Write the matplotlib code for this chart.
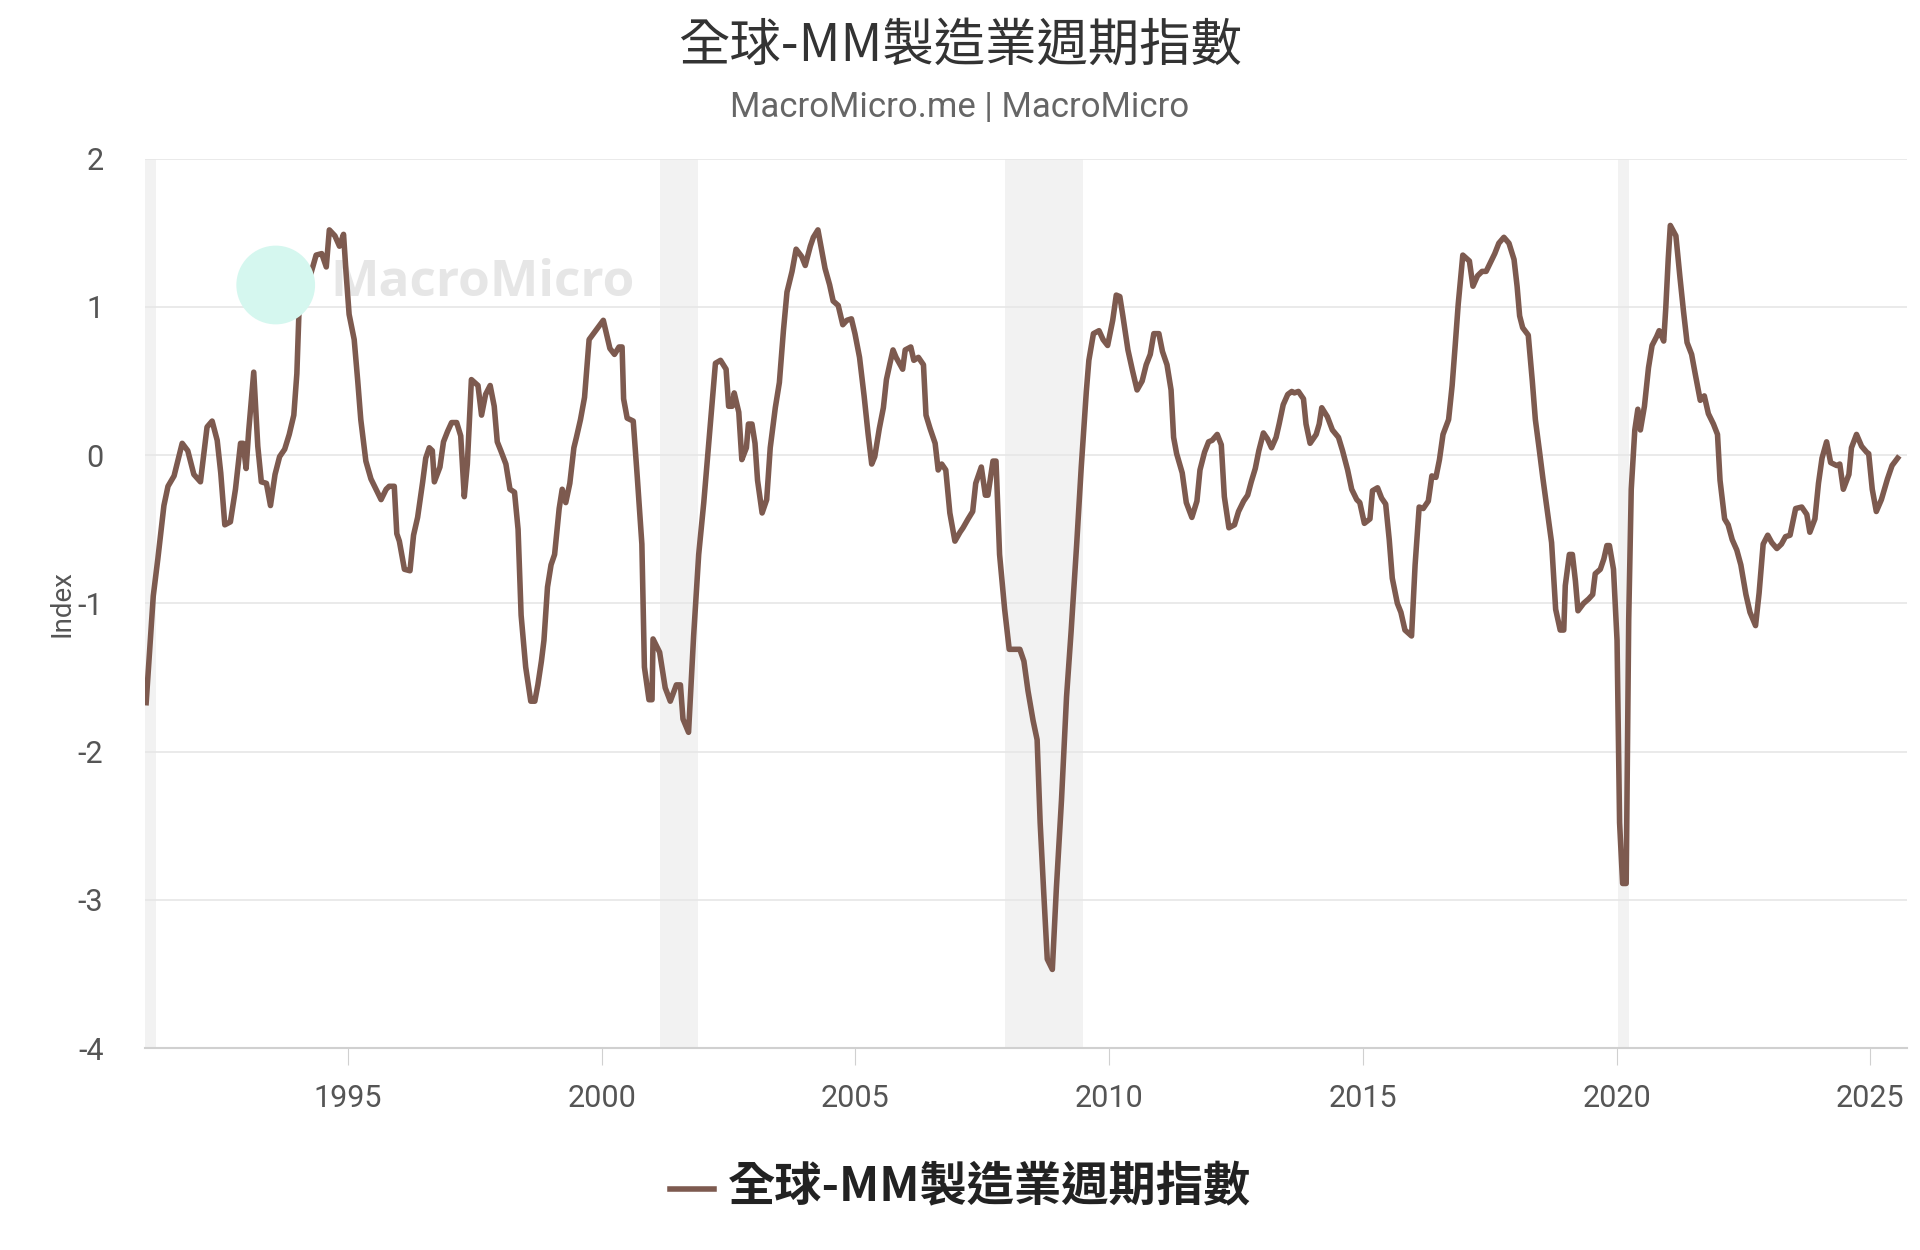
import matplotlib
matplotlib.use("Agg")
import matplotlib.pyplot as plt
from matplotlib.patches import Ellipse

plt.rcParams['font.family'] = ['Noto Sans CJK TC', 'DejaVu Sans']

title = "全球-MM製造業週期指數"
subtitle = "MacroMicro.me | MacroMicro"
series_name = "全球-MM製造業週期指數"

years = [
1991.02,1991.16,1991.25,1991.37,1991.45,1991.57,1991.73,1991.84,1991.96,1992.09,1992.22,1992.32,1992.42,1992.49,1992.57,1992.68,1992.78,1992.88,1992.93,1992.99,
1993.04,1993.14,1993.22,1993.29,1993.39,1993.47,1993.56,1993.65,1993.75,1993.84,1993.93,1993.99,1994.04,1994.14,1994.27,1994.37,1994.48,1994.57,1994.63,1994.74,
1994.83,1994.91,1994.96,1995.02,1995.12,1995.19,1995.25,1995.35,1995.45,1995.55,1995.65,1995.75,1995.81,1995.91,1995.96,1996.01,1996.11,1996.22,1996.29,1996.37,
1996.47,1996.53,1996.60,1996.66,1996.70,1996.81,1996.88,1996.96,1997.04,1997.14,1997.22,1997.29,1997.35,1997.43,1997.56,1997.63,1997.71,1997.80,1997.88,1997.94,
1998.01,1998.11,1998.19,1998.28,1998.35,1998.41,1998.50,1998.60,1998.68,1998.74,1998.81,1998.86,1998.93,1999.00,1999.07,1999.16,1999.22,1999.29,1999.37,1999.45,
1999.50,1999.58,1999.66,1999.75,1999.88,2000.03,2000.16,2000.25,2000.34,
2000.40,2000.43,2000.50,2000.62,2000.70,2000.79,2000.84,2000.93,2000.99,2001.01,2001.14,2001.25,2001.35,2001.47,2001.55,2001.60,2001.71,2001.81,2001.91,2002.01,
2002.14,2002.24,2002.34,2002.45,2002.50,2002.57,2002.61,2002.70,2002.76,2002.85,2002.89,2002.96,2003.02,2003.07,2003.16,2003.25,2003.32,2003.42,2003.50,2003.58,
2003.65,2003.75,2003.83,2003.94,2004.01,2004.11,2004.17,2004.26,2004.34,2004.40,2004.49,2004.56,2004.66,2004.75,2004.83,2004.92,2004.99,2005.08,2005.17,2005.25,
2005.32,2005.38,2005.47,2005.55,2005.61,2005.68,2005.74,2005.80,2005.93,2005.98,2006.09,2006.15,2006.24,2006.34,2006.39,2006.47,2006.57,2006.63,2006.70,2006.78,
2006.86,2006.96,2007.06,2007.12,2007.22,2007.31,2007.37,2007.48,2007.56,2007.61,2007.71,2007.77,2007.84,2007.94,2008.03,2008.14,2008.24,2008.32,2008.40,2008.50,
2008.58,2008.64,2008.71,2008.78,2008.88,2008.96,2009.06,2009.16,2009.25,2009.36,2009.45,2009.55,2009.60,2009.69,2009.80,2009.88,2009.97,2010.07,2010.14,
2010.21,2010.27,2010.37,2010.46,2010.55,2010.65,2010.73,2010.81,2010.88,2010.98,2011.05,2011.14,2011.22,2011.27,2011.33,2011.44,2011.52,2011.63,2011.73,2011.79,
2011.88,2011.96,2012.03,2012.13,2012.21,2012.27,2012.36,2012.47,2012.55,2012.65,2012.73,2012.80,2012.88,2012.95,2013.04,2013.12,2013.20,2013.29,2013.35,2013.43,
2013.52,2013.60,2013.65,2013.73,2013.83,2013.88,2013.96,2014.08,2014.14,2014.19,2014.30,2014.40,2014.52,2014.60,2014.70,2014.78,2014.88,2014.94,2015.03,2015.14,
2015.19,2015.29,2015.37,2015.45,2015.52,2015.58,2015.68,2015.75,2015.83,2015.96,2016.03,2016.11,2016.19,2016.29,2016.36,2016.44,2016.51,2016.58,2016.69,2016.76,
2016.82,2016.88,2016.97,2017.10,2017.17,2017.26,2017.35,2017.43,2017.50,2017.60,2017.68,2017.78,2017.88,2017.98,2018.04,2018.09,2018.15,2018.26,2018.34,2018.40,
2018.48,2018.55,2018.63,2018.72,2018.80,2018.89,2018.96,2018.99,2019.07,2019.13,2019.19,2019.24,2019.35,2019.45,2019.53,2019.58,2019.68,2019.75,2019.81,2019.86,
2019.94,2020.01,2020.06,2020.12,2020.19,2020.24,2020.29,2020.36,2020.42,
2020.47,2020.55,2020.63,2020.70,2020.79,2020.84,2020.93,2020.97,2021.02,2021.06,2021.17,2021.25,2021.32,2021.39,2021.48,2021.55,2021.65,2021.73,2021.81,2021.91,
2021.99,2022.04,2022.13,2022.20,2022.28,2022.37,2022.45,2022.55,2022.63,2022.74,2022.81,2022.89,2022.98,2023.06,2023.16,2023.25,2023.33,2023.42,2023.53,2023.65,
2023.75,2023.81,2023.91,2023.98,2024.05,2024.14,2024.22,2024.34,2024.40,2024.47,2024.58,2024.63,2024.73,2024.83,2024.93,2024.97,2025.04,2025.12,2025.22,2025.34,
2025.43,2025.54,
]
values = [
-1.67,-0.95,-0.70,-0.34,-0.21,-0.14,0.08,0.03,-0.13,-0.18,0.19,0.23,0.10,-0.12,-0.47,-0.45,-0.23,0.08,0.08,-0.09,
0.16,0.56,0.06,-0.18,-0.19,-0.34,-0.13,-0.01,0.04,0.14,0.27,0.55,1.05,1.12,1.23,1.35,1.36,1.27,1.52,1.48,
1.41,1.49,1.23,0.95,0.78,0.50,0.24,-0.04,-0.16,-0.23,-0.30,-0.23,-0.21,-0.21,-0.53,-0.58,-0.77,-0.78,-0.54,-0.42,
-0.18,-0.02,0.05,0.03,-0.18,-0.08,0.09,0.16,0.22,0.22,0.13,-0.28,-0.06,0.51,0.47,0.27,0.41,0.47,0.33,0.09,
0.03,-0.06,-0.23,-0.25,-0.50,-1.08,-1.43,-1.66,-1.66,-1.55,-1.39,-1.25,-0.89,-0.74,-0.67,-0.36,-0.23,-0.32,-0.19,0.05,
0.12,0.24,0.39,0.78,0.84,0.91,0.72,0.68,0.73,
0.73,0.38,0.25,0.23,-0.15,-0.60,-1.43,-1.65,-1.65,-1.24,-1.33,-1.57,-1.66,-1.55,-1.55,-1.78,-1.87,-1.22,-0.67,-0.32,
0.21,0.62,0.64,0.58,0.33,0.33,0.42,0.29,-0.03,0.05,0.21,0.21,0.08,-0.17,-0.39,-0.30,0.05,0.32,0.49,0.84,
1.10,1.24,1.39,1.34,1.28,1.41,1.47,1.52,1.37,1.26,1.15,1.04,1.01,0.88,0.91,0.92,0.82,0.66,0.40,0.14,
-0.06,-0.01,0.18,0.32,0.51,0.62,0.71,0.66,0.58,0.71,0.73,0.64,0.66,0.61,0.27,0.18,0.08,-0.10,-0.06,-0.10,
-0.39,-0.58,-0.52,-0.49,-0.43,-0.38,-0.19,-0.08,-0.27,-0.27,-0.04,-0.04,-0.67,-1.04,-1.31,-1.31,-1.31,-1.39,-1.59,-1.79,
-1.92,-2.48,-2.95,-3.40,-3.47,-2.92,-2.33,-1.63,-1.19,-0.60,-0.08,0.43,0.64,0.82,0.84,0.78,0.74,0.91,1.08,
1.07,0.94,0.71,0.57,0.44,0.50,0.61,0.68,0.82,0.82,0.70,0.61,0.44,0.12,0.01,-0.12,-0.32,-0.42,-0.31,-0.10,
0.02,0.09,0.10,0.14,0.07,-0.28,-0.49,-0.47,-0.38,-0.31,-0.27,-0.18,-0.09,0.03,0.15,0.11,0.05,0.12,0.21,0.34,
0.41,0.43,0.42,0.43,0.38,0.21,0.08,0.14,0.21,0.32,0.26,0.17,0.12,0.03,-0.10,-0.23,-0.30,-0.32,-0.46,-0.43,
-0.24,-0.22,-0.29,-0.33,-0.57,-0.83,-1.00,-1.06,-1.18,-1.22,-0.74,-0.35,-0.36,-0.31,-0.14,-0.15,-0.03,0.14,0.24,0.47,
0.74,1.02,1.35,1.31,1.14,1.21,1.24,1.24,1.29,1.36,1.43,1.47,1.43,1.32,1.14,0.94,0.86,0.81,0.50,0.24,
0.03,-0.16,-0.36,-0.59,-1.04,-1.18,-1.18,-0.88,-0.67,-0.67,-0.85,-1.05,-1.00,-0.97,-0.94,-0.80,-0.77,-0.70,-0.61,-0.61,
-0.77,-1.25,-2.48,-2.89,-2.89,-1.11,-0.23,0.17,0.31,
0.17,0.33,0.59,0.74,0.80,0.84,0.77,0.99,1.33,1.55,1.48,1.20,0.97,0.76,0.68,0.55,0.37,0.40,0.28,0.21,
0.14,-0.17,-0.43,-0.47,-0.57,-0.64,-0.74,-0.94,-1.06,-1.15,-0.93,-0.60,-0.54,-0.59,-0.63,-0.60,-0.55,-0.54,-0.36,-0.35,
-0.40,-0.52,-0.43,-0.19,-0.02,0.09,-0.05,-0.07,-0.06,-0.23,-0.13,0.05,0.14,0.06,0.02,0.01,-0.23,-0.38,-0.30,-0.16,
-0.07,-0.02,
]
recession_starts = [1990.9, 2001.15, 2007.95, 2020.03]
recession_ends = [1991.22, 2001.9, 2009.48, 2020.25]
yticks = [2, 1, 0, -1, -2, -3, -4]
xticks = [1995, 2000, 2005, 2010, 2015, 2020, 2025]

line_color = '#7d5a4f'
fig = plt.figure(figsize=(19.2, 12.5), dpi=100)
ax = fig.add_axes([0.0756, 0.1616, 0.9175, 0.7114])

for s, e in zip(recession_starts, recession_ends):
    ax.axvspan(s, e, color='#f2f2f2', zorder=0, lw=0)
ax.plot(years, values, color=line_color, lw=4, zorder=3)

ax.set_xlim(1991.0, 2025.72)
ax.set_ylim(-4, 2)
ax.set_yticks(yticks)
ax.set_yticklabels([str(v) for v in yticks])
ax.set_xticks(xticks)
ax.grid(axis='y', color='#e6e6e6', lw=1.2, zorder=1)
for sp in ['top', 'right', 'left']:
    ax.spines[sp].set_visible(False)
ax.spines['bottom'].set_color('#d0d0d0')
ax.spines['bottom'].set_linewidth(1.5)
ax.tick_params(axis='y', length=0, labelsize=22, labelcolor='#555555', pad=30)
ax.tick_params(axis='x', length=12, color='#d0d0d0', labelsize=22, labelcolor='#555555', pad=14)
for lab in ax.get_xticklabels() + ax.get_yticklabels():
    lab.set_family(['Roboto', 'DejaVu Sans'])
ax.set_ylabel('Index', fontsize=20, color='#555555', labelpad=2, family=['Roboto', 'DejaVu Sans'])

# watermark
fig.patches.append(Ellipse((0.1436, 0.772), 0.041, 0.063, transform=fig.transFigure,
                           color='#d5f7ef', lw=0, zorder=0))
ax.text(0.105, 0.86, 'MacroMicro', transform=ax.transAxes, fontsize=37, color='#e6e6e6',
        fontweight='bold', va='center', ha='left', zorder=2, family=['Open Sans', 'DejaVu Sans'])

fig.text(0.5, 0.963, title, ha='center', va='center', fontsize=37, fontweight='medium', color='#333333')
fig.text(0.5, 0.914, subtitle, ha='center', va='center', fontsize=25, color='#666666',
         family=['Roboto', 'DejaVu Sans'])

# legend
fig.lines.append(plt.Line2D([0.349, 0.372], [0.049, 0.049], transform=fig.transFigure, color=line_color, lw=4))
fig.text(0.379, 0.050, series_name, ha='left', va='center', fontsize=34, fontweight='bold', color='#222222')

fig.savefig('out.png', dpi=100)
